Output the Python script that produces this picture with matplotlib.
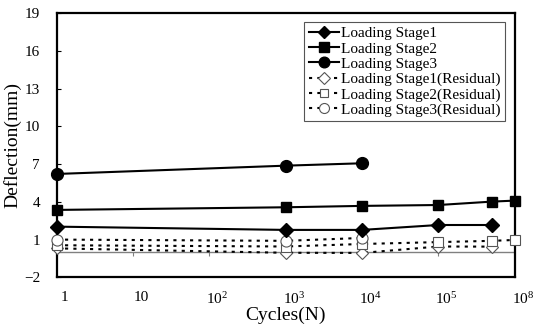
import matplotlib
matplotlib.use("Agg")
import matplotlib.pyplot as plt
import matplotlib.transforms as mtrans
import numpy as np

plt.rcParams['font.family'] = ['Liberation Serif', 'DejaVu Serif']
plt.rcParams['mathtext.fontset'] = 'custom'
plt.rcParams['mathtext.rm'] = 'Liberation Serif'
plt.rcParams['mathtext.it'] = 'Liberation Serif:italic'

# ---- data ----
cycles1 = [1, 1e3, 1e4, 1e5, 5e5]
stage1 = [2.03, 1.77, 1.77, 2.16, 2.16]
cycles2 = [1, 1e3, 1e4, 1e5, 5e5, 1e6]
stage2 = [3.36, 3.57, 3.68, 3.75, 4.02, 4.10]
cycles3 = [1, 1e3, 1e4]
stage3 = [6.22, 6.88, 7.07]
residual1 = [0.30, -0.05, -0.06, 0.45, 0.44]
residual2 = [0.55, 0.45, 0.65, 0.80, 0.90, 0.97]
residual3 = [1.00, 0.90, 1.13]

xtick_values = [1, 10, 1e2, 1e3, 1e4, 1e5, 1e6]
xtick_labels = ['1', '10', '10$^2$', '10$^3$', '10$^4$', '10$^5$', '10$^8$']
ytick_values = [-2, 1, 4, 7, 10, 13, 16, 19]
labels = ['Loading Stage1', 'Loading Stage2', 'Loading Stage3',
          'Loading Stage1(Residual)', 'Loading Stage2(Residual)', 'Loading Stage3(Residual)']

W, H = 534, 325
fig = plt.figure(figsize=(W / 100, H / 100), dpi=100)
ax = fig.add_axes([56.7 / W, 1 - 277.3 / H, (514.7 - 56.7) / W, (277.3 - 13.3) / H])

lw = 1.5
ax.plot(cycles1, stage1, color='black', lw=lw, marker='D', ms=7, label=labels[0], clip_on=False, zorder=5)
ax.plot(cycles2, stage2, color='black', lw=lw, marker='s', ms=7.5, label=labels[1], clip_on=False, zorder=5)
ax.plot(cycles3, stage3, color='black', lw=lw, marker='o', ms=8.5, label=labels[2], clip_on=False, zorder=5)

dash = (0, (1.5, 2.5))
ax.plot(cycles1, residual1, color='black', lw=lw, ls=dash, marker='D', ms=6.5, mfc='white',
        mec='#555555', mew=0.8, label=labels[3], clip_on=False, zorder=4)
ax.plot(cycles2, residual2, color='black', lw=lw, ls=dash, marker='s', ms=7, mfc='white',
        mec='#555555', mew=0.8, label=labels[4], clip_on=False, zorder=4)
ax.plot(cycles3, residual3, color='black', lw=lw, ls=dash, marker='o', ms=8, mfc='white',
        mec='#555555', mew=0.8, label=labels[5], clip_on=False, zorder=4)

ax.set_xscale('log')
ax.set_xlim(1, 1e6)
ax.set_ylim(-2, 19)
ax.set_yticks(ytick_values)
ax.set_xticks(xtick_values)
ax.set_xticklabels(xtick_labels)
ax.minorticks_off()

# horizontal axis line crossing at 0
ax.axhline(0, color='#808080', lw=1.0, zorder=1)
ax.vlines(xtick_values, -0.3, 0, color='#808080', lw=0.8, zorder=1)

for s in ax.spines.values():
    s.set_linewidth(1.6)
    s.set_color('black')

ax.tick_params(axis='y', direction='in', length=3, width=0.8, pad=12, labelsize=11)
ax.tick_params(axis='x', length=0, pad=10, labelsize=11)
offset = mtrans.ScaledTranslation(0.08, 0, fig.dpi_scale_trans)
for lab in ax.get_xticklabels():
    lab.set_transform(lab.get_transform() + offset)

ax.set_xlabel('Cycles(N)', fontsize=14, labelpad=0)
ax.set_ylabel('Deflection(mm)', fontsize=14, labelpad=2)

leg = ax.legend(loc='upper right', bbox_to_anchor=(505 / W, 1 - 22 / H),
                bbox_transform=fig.transFigure, borderaxespad=0, fontsize=11,
                frameon=True, fancybox=False, framealpha=1, edgecolor='#555555',
                handlelength=2.0, handletextpad=0.1, labelspacing=0.1,
                borderpad=0.3, markerscale=0.9)
leg.get_frame().set_linewidth(0.8)

fig.savefig('out.png', dpi=100)
